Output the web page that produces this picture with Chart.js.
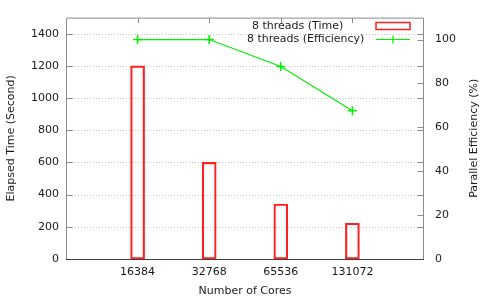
<!DOCTYPE html>
<html>
<head>
<meta charset="utf-8">
<script src="https://cdn.jsdelivr.net/npm/chart.js@4"></script>
<style>
  html, body { margin: 0; padding: 0; background: #fff; }
  #wrap { width: 500px; height: 300px; }
</style>
</head>
<body>
<div id="wrap"><canvas id="c"></canvas></div>
<script>
const cores = ['16384', '32768', '65536', '131072'];
const elapsed = [1200, 600, 342, 222];
const efficiency = [100, 100, 87.7, 67.6];
const timeTicks = [0, 200, 400, 600, 800, 1000, 1200, 1400];
const effTicks = [0, 20, 40, 60, 80, 100];

// empty slots at both ends so the cores sit at 1..4 of 0..5
const labels = [''].concat(cores, ['']);
const timeData = [null].concat(elapsed, [null]);
const effData = [null].concat(efficiency, [null]);

const FONT = 'DejaVu Sans';
const TXT = '#1a1a1a';

const framePlugin = {
  id: 'frame',
  beforeDatasetsDraw(chart) {
    const ctx = chart.ctx, a = chart.chartArea, y = chart.scales.y;
    ctx.save();
    ctx.strokeStyle = '#c8c8c8';
    ctx.lineWidth = 1;
    ctx.setLineDash([1, 2]);
    timeTicks.forEach(v => {
      if (v === 0) return;
      const py = Math.round(y.getPixelForValue(v)) + 0.5;
      ctx.beginPath();
      ctx.moveTo(a.left, py);
      ctx.lineTo(a.right, py);
      ctx.stroke();
    });
    ctx.restore();
  },
  afterDatasetsDraw(chart) {
    const ctx = chart.ctx, a = chart.chartArea;
    const x = chart.scales.x, y = chart.scales.y, y2 = chart.scales.y2;
    const L = a.left + 0.5, R = Math.round(a.right) - 0.5, T = a.top + 0.5, B = Math.round(a.bottom) + 0.5;
    ctx.save();
    ctx.setLineDash([]);
    ctx.lineWidth = 1;
    ctx.strokeStyle = '#8a8a8a';
    ctx.beginPath();
    ctx.moveTo(L, B); ctx.lineTo(L, T); ctx.lineTo(R, T); ctx.lineTo(R, B);
    ctx.stroke();
    // inward ticks
    ctx.beginPath();
    timeTicks.forEach(v => {
      const py = Math.round(y.getPixelForValue(v)) + 0.5;
      ctx.moveTo(L, py); ctx.lineTo(L + 6, py);
      ctx.moveTo(R, py); ctx.lineTo(R - 6, py);
    });
    effTicks.forEach(v => {
      const py = Math.round(y2.getPixelForValue(v)) + 0.5;
      ctx.moveTo(R, py); ctx.lineTo(R - 6, py);
    });
    cores.forEach((c, i) => {
      const px = Math.round(x.getPixelForValue(i + 1)) + 0.5;
      ctx.moveTo(px, T); ctx.lineTo(px, T + 5);
    });
    ctx.stroke();
    ctx.strokeStyle = '#404040';
    ctx.beginPath();
    ctx.moveTo(L - 0.5, B); ctx.lineTo(R + 0.5, B);
    ctx.stroke();

    // legend
    ctx.font = '11px "' + FONT + '"';
    ctx.fillStyle = TXT;
    ctx.textBaseline = 'middle';
    ctx.textAlign = 'left';
    ctx.fillText('8 threads (Time)', 252, 26);
    ctx.fillText('8 threads (Efficiency)', 247, 39.5);
    ctx.strokeStyle = '#ff2020';
    ctx.lineWidth = 1.5;
    ctx.strokeRect(376, 22.5, 34, 7);
    ctx.strokeStyle = '#00ee00';
    ctx.lineWidth = 1.2;
    ctx.beginPath();
    ctx.moveTo(376, 39.5); ctx.lineTo(410, 39.5);
    ctx.moveTo(393, 35.5); ctx.lineTo(393, 43.5);
    ctx.stroke();

    // right axis title, reading bottom to top
    ctx.save();
    ctx.translate(474, (a.top + a.bottom) / 2);
    ctx.rotate(-Math.PI / 2);
    ctx.textAlign = 'center';
    ctx.fillStyle = TXT;
    ctx.fillText('Parallel Efficiency (%)', 0, 0);
    ctx.restore();
    ctx.restore();
  }
};

new Chart(document.getElementById('c'), {
  type: 'bar',
  data: {
    labels: labels,
    datasets: [{
      label: '8 threads (Time)',
      data: timeData,
      yAxisID: 'y',
      backgroundColor: 'rgba(0,0,0,0)',
      borderColor: '#ff2020',
      borderWidth: 1.5,
      borderSkipped: false,
      barThickness: 14,
      order: 2
    }, {
      type: 'line',
      label: '8 threads (Efficiency)',
      data: effData,
      yAxisID: 'y2',
      borderColor: '#00ee00',
      borderWidth: 1.2,
      pointStyle: 'cross',
      pointRadius: 4.5,
      pointBorderWidth: 1.5,
      pointBorderColor: '#00ee00',
      fill: false,
      tension: 0,
      order: 1
    }]
  },
  options: {
    responsive: true,
    maintainAspectRatio: false,
    animation: false,
    layout: { padding: { top: 15, left: 0, right: 0, bottom: 0 } },
    plugins: { legend: { display: false }, tooltip: { enabled: false } },
    scales: {
      x: {
        offset: false,
        grid: { display: false, drawTicks: false },
        border: { display: false },
        ticks: { color: TXT, font: { family: FONT, size: 11 }, padding: 7, maxRotation: 0, autoSkip: false },
        title: { display: true, text: 'Number of Cores', color: TXT, font: { family: FONT, size: 11 }, padding: { top: 2, bottom: 2 } },
        afterFit(s) { s.height = 41; }
      },
      y: {
        position: 'left',
        min: 0, max: 1500,
        afterBuildTicks(s) { s.ticks = timeTicks.map(v => ({ value: v })); },
        grid: { display: false, drawTicks: false },
        border: { display: false },
        ticks: { color: TXT, font: { family: FONT, size: 11 }, padding: 7, callback: v => String(v) },
        title: { display: true, text: 'Elapsed Time (Second)', color: TXT, font: { family: FONT, size: 11 }, padding: { top: 4.5, bottom: 0 } },
        afterFit(s) { s.width = 66; }
      },
      y2: {
        position: 'right',
        min: 0, max: 110,
        afterBuildTicks(s) { s.ticks = effTicks.map(v => ({ value: v })); },
        grid: { display: false, drawTicks: false },
        border: { display: false },
        ticks: { color: TXT, font: { family: FONT, size: 11 }, padding: 11, callback: v => String(v) },
        afterFit(s) { s.width = 76; }
      }
    }
  },
  plugins: [framePlugin]
});
</script>
</body>
</html>
